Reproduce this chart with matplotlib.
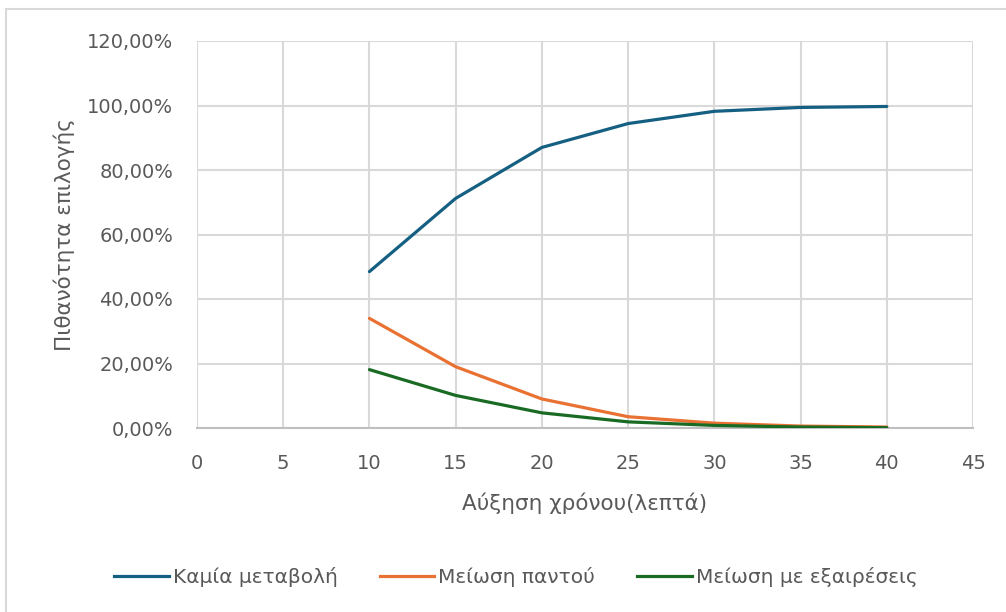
import numpy as np
import matplotlib.pyplot as plt
from matplotlib.ticker import FuncFormatter
from matplotlib.lines import Line2D

plt.rcParams['font.family'] = ['DejaVu Sans']

# δεδομένα (διαβασμένα από το γράφημα)
lepta = [10, 15, 20, 25, 30, 35, 40]
kamia_metavoli = [48.5, 71.2, 87.0, 94.4, 98.2, 99.4, 99.7]
meiosi_pantou = [34.0, 19.0, 9.0, 3.5, 1.5, 0.6, 0.3]
meiosi_exaireseis = [18.1, 10.1, 4.7, 1.9, 0.8, 0.3, 0.1]
onomata = ["Καμία μεταβολή", "Μείωση παντού", "Μείωση με εξαιρέσεις"]
xromata = ["#156082", "#E97132", "#196B24"]

fig = plt.figure(figsize=(10.06, 6.12), dpi=100)
ax = fig.add_axes([197/1006, 1-428/612, (973-197)/1006, (428-41)/612])

for y, c, n in zip([kamia_metavoli, meiosi_pantou, meiosi_exaireseis], xromata, onomata):
    ax.plot(lepta, y, color=c, lw=2.3, label=n, solid_capstyle='round', zorder=3)

ax.set_xlim(0, 45)
ax.set_ylim(0, 120)
ax.set_xticks(np.arange(0, 46, 5))
ax.set_yticks(np.arange(0, 121, 20))
ax.yaxis.set_major_formatter(FuncFormatter(lambda v, p: "{:.2f}%".format(v).replace(".", ",")))
ax.grid(True, color="#d9d9d9", lw=1.5, zorder=0)
for s in ["top", "right", "left"]:
    ax.spines[s].set_visible(False)
ax.spines["bottom"].set_color("#bfbfbf")
ax.spines["bottom"].set_linewidth(1.5)
ax.tick_params(length=0, labelsize=14, colors="#595959")
ax.tick_params(axis='y', pad=17)
ax.tick_params(axis='x', pad=19)

ax.set_xlabel("Αύξηση χρόνου(λεπτά)", fontsize=15.5, color="#595959", labelpad=14)
ax.set_ylabel("Πιθανότητα επιλογής", fontsize=15.5, color="#595959", labelpad=9)

handles = [Line2D([], [], color=c, lw=2.3) for c in xromata]
fig.legend(handles, onomata, loc="center", bbox_to_anchor=(516/1006, 1-577/612),
           ncol=3, frameon=False, fontsize=14.5, labelcolor="#595959",
           handlelength=2.7, handletextpad=0.2, columnspacing=2.1)

# περίγραμμα γραφήματος
fig.add_artist(Line2D([6/1006, 6/1006], [0, 1-9/612], color="#d9d9d9", lw=1.5))
fig.add_artist(Line2D([6/1006, 1], [1-9/612, 1-9/612], color="#d9d9d9", lw=1.5))

fig.savefig("out.png", dpi=100)
